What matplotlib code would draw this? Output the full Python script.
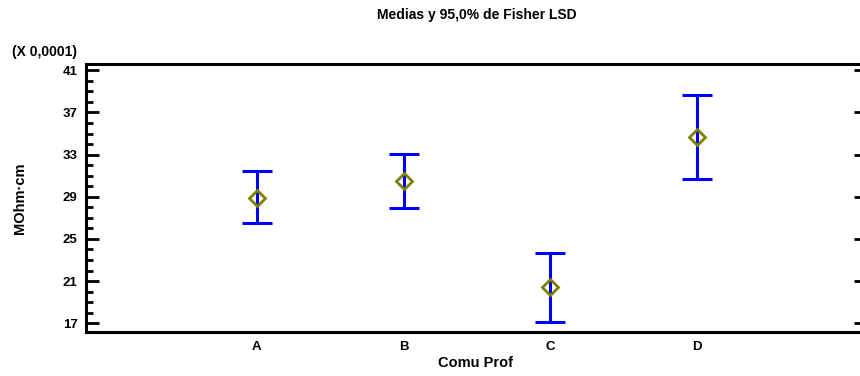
import matplotlib
matplotlib.use("Agg")
import matplotlib.pyplot as plt
from matplotlib.ticker import MultipleLocator

plt.rcParams['font.family'] = ['Liberation Sans', 'DejaVu Sans']
plt.rcParams['font.weight'] = 'bold'

# Fisher LSD means and 95% interval limits (values x 0,0001)
groups = ["A", "B", "C", "D"]
means = [28.86, 30.5, 20.42, 34.7]
lower = [26.54, 27.91, 17.12, 30.72]
upper = [31.45, 33.06, 23.7, 38.69]

fig = plt.figure(figsize=(8.6, 3.76), dpi=100)
ax = fig.add_axes([86 / 860, 0.1178, (866 - 86) / 860, 0.712])

x = list(range(1, len(groups) + 1))
err_lo = [m - l for m, l in zip(means, lower)]
err_hi = [u - m for m, u in zip(means, upper)]
ax.errorbar(x, means, yerr=[err_lo, err_hi], fmt='none', ecolor='#0000ff',
            elinewidth=2.2, capsize=10.5, capthick=2.2, zorder=2)
ax.plot(x, means, linestyle='none', marker='D', markersize=8.5,
        markerfacecolor='none', markeredgecolor='#808000', markeredgewidth=2.0, zorder=3)

ax.set_xlim(1 - 171 / 146.7, 4 + 169 / 146.7)
ax.set_ylim(16.2, 41.6)
ax.set_xticks(x)
ax.set_xticklabels(groups)
ax.yaxis.set_major_locator(MultipleLocator(4))
ax.yaxis.set_minor_locator(MultipleLocator(1))
ax.set_yticks(range(17, 42, 4))

for side in ('left', 'top', 'bottom', 'right'):
    ax.spines[side].set_linewidth(2.2)
ax.tick_params(axis='y', which='major', direction='in', length=9, width=2,
               right=True, labelsize=9.5, pad=6)
ax.tick_params(axis='y', which='minor', direction='in', length=5, width=2, right=False)
ax.tick_params(axis='x', which='both', length=0, labelsize=9.5, pad=7)

ax.set_xlabel("Comu Prof", fontsize=10.5, fontweight='bold', labelpad=2)
ax.set_ylabel("MOhm·cm", fontsize=10.5, fontweight='bold')
ax.yaxis.set_label_coords((27 - 86) / 780, 0.5)
fig.text(0.555, 0.96, "Medias y 95,0% de Fisher LSD", ha='center', va='center',
         fontsize=10, fontweight='bold')
fig.text(12 / 860, 1 - 52 / 376, "(X 0,0001)", ha='left', va='center',
         fontsize=10, fontweight='bold')

fig.savefig("out.png", dpi=100)
